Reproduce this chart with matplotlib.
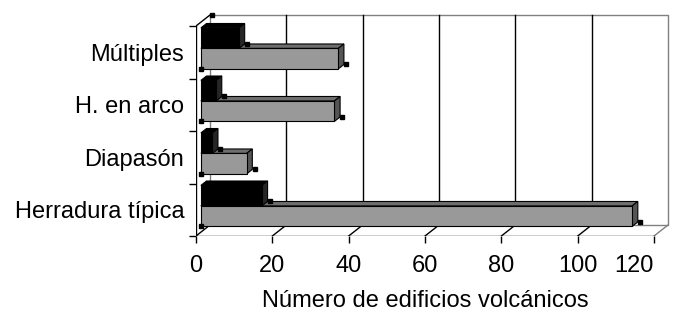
import matplotlib.pyplot as plt
from matplotlib.patches import Polygon

plt.rcParams['font.family'] = ['Liberation Sans', 'DejaVu Sans']

categorias = ["Herradura típica", "Diapasón", "H. en arco", "Múltiples"]
serie_gris = [113, 12, 35, 36]
serie_negra = [16, 3, 4, 10]
ticks_x = [0, 20, 40, 60, 80, 100, 120]

# profundidad de la perspectiva (en unidades de datos)
dx, dy = 3.67, 0.21
f0, f1 = 0.35, 0.75
xmax = 120
escala = 3.817  # px por unidad


def P(x, y, f):
    return (x + f * dx, y + f * dy)


fig = plt.figure(figsize=(6.77, 3.22), dpi=100)
ax = fig.add_axes([196 / 677, 86 / 322, 476.5 / 677, 225.75 / 322])
ax.set_xlim(0, 476.5 / escala)
ax.set_ylim(0, 4.3)
for s in ax.spines.values():
    s.set_visible(False)

n = len(categorias)

# pared del fondo y rejilla
ax.plot([dx, xmax + dx, xmax + dx, dx, dx], [dy, dy, n + dy, n + dy, dy],
        color="#808080", lw=1, zorder=1)
for v in ticks_x[1:-1]:
    ax.plot([v + dx, v + dx], [dy, n + dy], color="black", lw=1, zorder=1)
# suelo
for v in ticks_x:
    ax.plot([v, v + dx], [0, dy], color="black" if v < xmax else "#808080",
            lw=1, zorder=1)
# pared izquierda
ax.plot([0, dx], [n, n + dy], color="black", lw=1, zorder=1)
ax.plot([0, 0], [0, n], color="black", lw=1, zorder=5)
ax.plot([0, xmax], [0, 0], color="black", lw=1, zorder=5)


def caras(v, a, b):
    frente = [P(0, a, f0), P(v, a, f0), P(v, b, f0), P(0, b, f0)]
    arriba = [P(0, b, f0), P(v, b, f0), P(v, b, f1), P(0, b, f1)]
    lado = [P(v, a, f0), P(v, a, f1), P(v, b, f1), P(v, b, f0)]
    return frente, arriba, lado


def poly(pts, color, z):
    ax.add_patch(Polygon(pts, closed=True, facecolor=color, edgecolor="black",
                         lw=0.8, zorder=z))


for i in range(n):
    z = 10 + (n - i) * 5
    gf, ga, gl = caras(serie_gris[i], i + 0.11, i + 0.50)
    nf, na, nl = caras(serie_negra[i], i + 0.50, i + 0.89)
    poly(ga, "#6e6e6e", z)
    poly(gl, "#555555", z)
    poly(na, "#000000", z + 1)
    poly(nl, "#262626", z + 1)
    poly(nf, "#000000", z + 1)
    poly(gf, "#999999", z + 2)
    # marcadores de selección
    hx, hy = zip(P(0, i + 0.11, f0), P(serie_gris[i] + 0.6, i + 0.11, f1),
                 P(serie_negra[i] + 0.6, i + 0.50, f1))
    ax.plot(hx, hy, "s", color="black", ms=3.5, zorder=z + 3)
ax.plot([dx + 0.6], [n + dy], "s", color="black", ms=3.5, zorder=30)

ax.set_xticks(ticks_x)
ax.set_xticklabels([str(t) for t in ticks_x], fontsize=17)
ax.get_xticklabels()[-1].set_horizontalalignment("right")
ax.tick_params(axis="x", direction="out", length=5, pad=9, width=1)

ax.set_yticks(range(n + 1), minor=False)
ax.set_yticklabels([""] * (n + 1))
ax.set_yticks([i + 0.5 for i in range(n)], minor=True)
ax.set_yticklabels(categorias, minor=True, fontsize=17)
ax.tick_params(axis="y", which="major", direction="out", length=5, width=1)
ax.tick_params(axis="y", which="minor", length=0, pad=8.5)

fig.text(425 / 677, 1 - 301 / 322, "Número de edificios volcánicos",
         fontsize=17, ha="center", va="center")

fig.savefig("out.png", dpi=100)
